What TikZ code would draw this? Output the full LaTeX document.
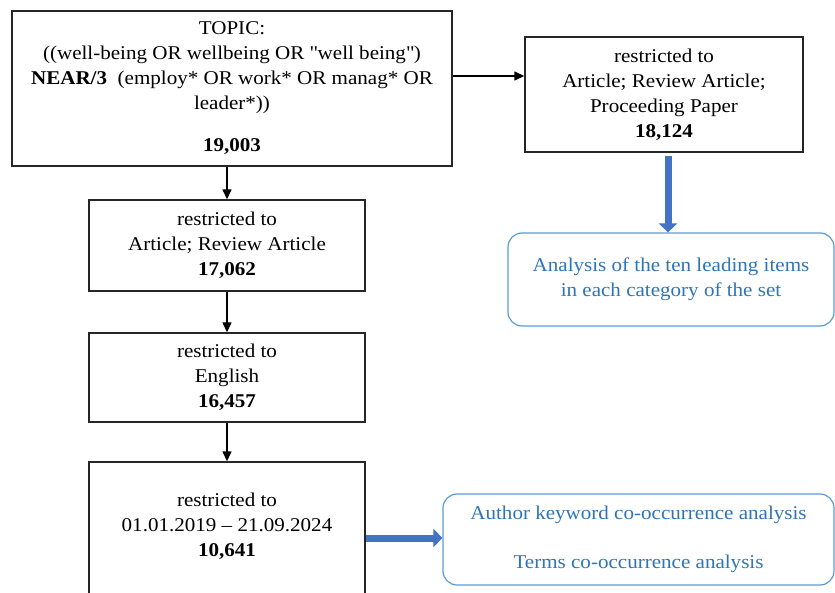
\documentclass[tikz,border=0pt]{standalone}
\usepackage{fontspec}
\setmainfont{Liberation Serif}[FakeStretch=1.08]
\usetikzlibrary{arrows.meta}
\definecolor{boxblue}{RGB}{91,155,213}
\definecolor{txtblue}{RGB}{46,117,182}
\definecolor{arrblue}{RGB}{68,114,196}
\begin{document}
\begin{tikzpicture}[x=1pt,y=-1pt,
  box/.style={draw=black!85, line width=1.4pt, rectangle, inner sep=0pt, align=center, font=\fontsize{19.5}{25}\selectfont},
  plain/.style={inner sep=0pt, align=center, font=\fontsize{19.5}{25}\selectfont},
  bluebox/.style={draw=boxblue, line width=1.2pt, rounded corners=14pt, inner sep=0pt, align=center, text=txtblue, font=\fontsize{19.5}{25}\selectfont},
  flow/.style={-{Triangle[length=10pt,width=9pt]}, line width=1.4pt},
  bigflow/.style={-{Triangle[length=9pt,width=18pt]}, line width=7pt, draw=arrblue}]
\useasboundingbox (0,0) rectangle (835,593);
\clip (0,0) rectangle (835,593);

\node[box, minimum width=440pt, minimum height=155pt] (b1) at (232,88.5)
  {TOPIC:\\((well-being OR wellbeing OR \textquotedbl well being\textquotedbl)\\\textbf{NEAR/3}\ \ (employ* OR work* OR manag* OR\\leader*))\\[17pt]\textbf{19,003}};
\node[box, minimum width=278pt, minimum height=115pt] (b2) at (664,94.5)
  {restricted to\\Article; Review Article;\\Proceeding Paper\\\textbf{18,124}};
\node[box, minimum width=276pt, minimum height=91pt] (b3) at (227,245.5)
  {restricted to\\Article; Review Article\\\textbf{17,062}};
\node[box, minimum width=276pt, minimum height=89pt] (b4) at (227,377.5)
  {restricted to\\English\\\textbf{16,457}};
\node[box, minimum width=276pt, minimum height=138pt] (b5) at (227,531) {};
\node[plain] (t5) at (227,526.5)
  {restricted to\\01.01.2019 -- 21.09.2024\\\textbf{10,641}};

\node[bluebox, minimum width=326pt, minimum height=93pt] (bl1) at (671,279.5)
  {Analysis of the ten leading items\\in each category of the set};
\node[bluebox, minimum width=391pt, minimum height=91pt] (bl2) at (638.5,539.5)
  {Author keyword co-occurrence analysis\\[24pt]Terms co-occurrence analysis};

\coordinate (c12) at ([yshift=12.5pt]b1.east);
\draw[flow] (c12) -- (c12 -| b2.west);
\draw[flow] (b1.south -| b3.north) -- (b3.north);
\draw[flow] (b3.south) -- (b4.north);
\draw[flow] (b4.south) -- (b5.north);

\coordinate (c2) at ([xshift=4pt,yshift=-3pt]b2.south);
\draw[bigflow] (c2) -- (c2 |- bl1.north);
\coordinate (c5) at ([yshift=-7pt]b5.east);
\draw[bigflow] (c5) -- (c5 -| bl2.west);
\end{tikzpicture}
\end{document}
